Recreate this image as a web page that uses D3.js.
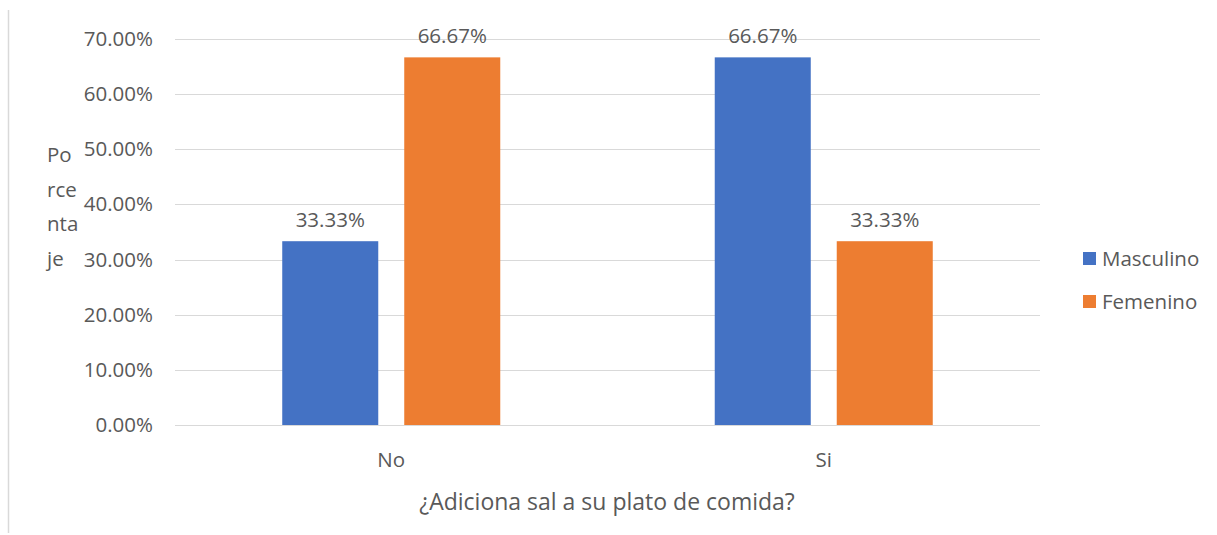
<!DOCTYPE html>
<html><head><meta charset="utf-8">
<script src="https://cdn.jsdelivr.net/npm/d3@7"></script>
<style>body{margin:0;background:#fff}svg{font-family:"Open Sans",sans-serif}</style>
</head><body><svg id="c" width="1217" height="535"></svg>
<script>
const categories = ["No", "Si"];
const seriesNames = ["Masculino", "Femenino"];
const masculino = [0.3333, 0.6667];
const femenino = [0.6667, 0.3333];
const yTicks = [0, 0.1, 0.2, 0.3, 0.4, 0.5, 0.6, 0.7];
const colors = ["#4472C4", "#ED7D31"];
const yTitleLines = ["Po", "rce", "nta", "je"];

const svg = d3.select("#c");
const txt = "#595959";
const fs = "20.5px";
svg.append("line").attr("x1", 8.5).attr("x2", 8.5).attr("y1", 10).attr("y2", 533).attr("stroke", "#d9d9d9").attr("stroke-width", 1.5);

const x0 = d3.scaleBand().domain(categories).range([175, 1040]);
const x1 = d3.scaleBand().domain(seriesNames).range([0, x0.bandwidth()]).paddingInner(0.213).paddingOuter(0.879);
const y = d3.scaleLinear().domain([0, 0.7]).range([425, 39]);

const g = svg.append("g");
g.selectAll(".grid").data(yTicks).join("line")
  .attr("x1", 175).attr("x2", 1040).attr("y1", d => Math.round(y(d)) + 0.5).attr("y2", d => Math.round(y(d)) + 0.5)
  .attr("stroke", "#d9d9d9").attr("stroke-width", 1);

const yAxis = d3.axisLeft(y).tickValues(yTicks).tickFormat(d3.format(".2%")).tickSize(0).tickPadding(0);
const ya = svg.append("g").attr("transform", "translate(153,0)").call(yAxis);
ya.select(".domain").remove();
ya.selectAll("text").attr("fill", txt).style("font-size", fs).style("font-family", "Open Sans");

const series = [masculino, femenino];
series.forEach((vals, si) => {
  const bars = svg.append("g");
  bars.selectAll("rect").data(categories).join("rect")
    .attr("x", (c) => x0(c) + x1(seriesNames[si]))
    .attr("width", x1.bandwidth())
    .attr("y", (c, i) => y(vals[i]))
    .attr("height", (c, i) => y(0) - y(vals[i]))
    .attr("fill", colors[si]);
  bars.selectAll("text").data(categories).join("text")
    .attr("x", (c) => x0(c) + x1(seriesNames[si]) + x1.bandwidth() / 2)
    .attr("y", (c, i) => y(vals[i]) - 14)
    .attr("text-anchor", "middle").attr("fill", txt).style("font-size", fs)
    .text((c, i) => d3.format(".2%")(vals[i]));
});

const xAxis = d3.axisBottom(x0).tickSize(0).tickPadding(0);
const xa = svg.append("g").attr("transform", "translate(0,452)").call(xAxis);
xa.select(".domain").remove();
xa.selectAll("text").attr("fill", txt).style("font-size", fs).style("font-family", "Open Sans");

svg.append("text").attr("x", 607).attr("y", 510).attr("text-anchor", "middle").attr("fill", txt)
  .style("font-size", "23px").text("¿Adiciona sal a su plato de comida?");

const yt = svg.append("text").attr("fill", txt).style("font-size", fs);
yTitleLines.forEach((l, i) => yt.append("tspan").attr("x", 47).attr("y", 162 + i * 34.5).text(l));

const leg = svg.append("g");
seriesNames.forEach((s, i) => {
  const ly = 258 + i * 43;
  leg.append("rect").attr("x", 1083).attr("y", ly - 6).attr("width", 13).attr("height", 13).attr("fill", colors[i]);
  leg.append("text").attr("x", 1102).attr("y", ly + 8).attr("fill", txt).style("font-size", fs).text(s);
});
</script></body></html>
